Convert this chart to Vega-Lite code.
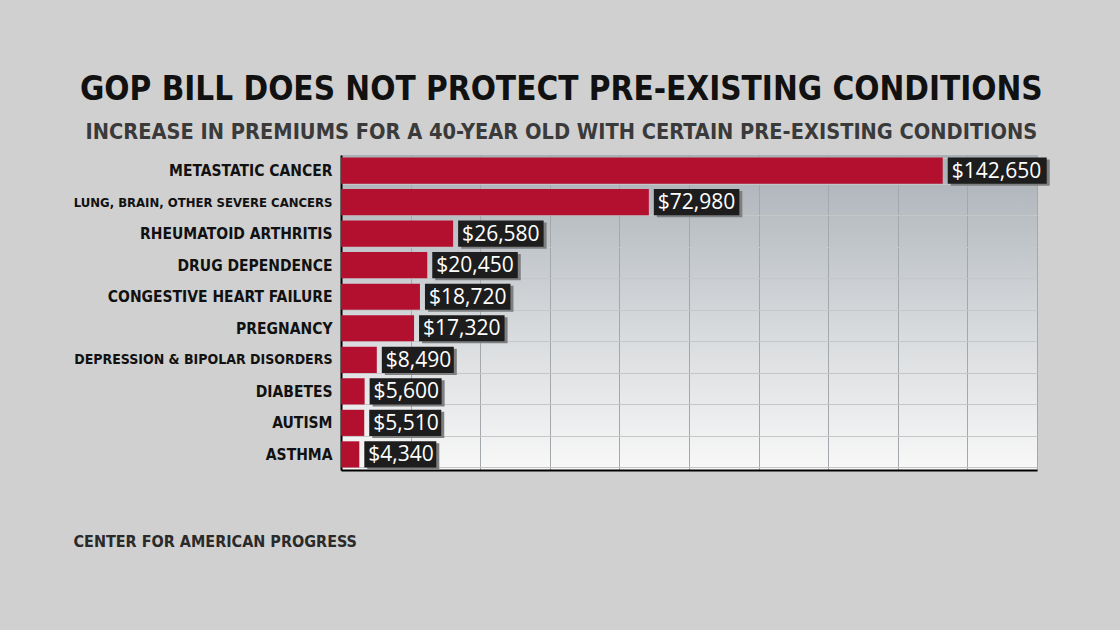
{
  "$schema": "https://vega.github.io/schema/vega-lite/v6.json",
  "width": 696,
  "height": 315,
  "autosize": "none",
  "padding": {"left": 341, "top": 155, "right": 83, "bottom": 160},
  "background": "#d0d0d0",
  "title": {
    "text": "GOP BILL DOES NOT PROTECT PRE-EXISTING CONDITIONS",
    "subtitle": "INCREASE IN PREMIUMS FOR A 40-YEAR OLD WITH CERTAIN PRE-EXISTING CONDITIONS",
    "anchor": "middle",
    "frame": "bounds",
    "font": "DejaVu Sans Condensed, sans-serif",
    "fontSize": 33,
    "fontWeight": "bold",
    "color": "#111111",
    "subtitleFont": "DejaVu Sans Condensed, sans-serif",
    "subtitleFontSize": 21.6,
    "subtitleFontWeight": "bold",
    "subtitleColor": "#3a3a3a",
    "subtitlePadding": 15,
    "offset": 4
  },
  "data": {
    "values": [
      {"condition": "METASTATIC CANCER", "value": 142650},
      {"condition": "LUNG, BRAIN, OTHER SEVERE CANCERS", "value": 72980},
      {"condition": "RHEUMATOID ARTHRITIS", "value": 26580},
      {"condition": "DRUG DEPENDENCE", "value": 20450},
      {"condition": "CONGESTIVE HEART FAILURE", "value": 18720},
      {"condition": "PREGNANCY", "value": 17320},
      {"condition": "DEPRESSION & BIPOLAR DISORDERS", "value": 8490},
      {"condition": "DIABETES", "value": 5600},
      {"condition": "AUTISM", "value": 5510},
      {"condition": "ASTHMA", "value": 4340}
    ]
  },
  "encoding": {
    "y": {
      "field": "condition",
      "type": "nominal",
      "sort": null,
      "scale": {"paddingInner": 0.17, "paddingOuter": 0.08},
      "axis": {
        "title": null,
        "ticks": false,
        "domain": true,
        "domainColor": "#000000",
        "domainWidth": 2,
        "grid": true,
        "tickBand": "extent",
        "gridColor": "#c4c6c8",
        "labelPadding": 9,
        "labelFont": "DejaVu Sans Condensed, sans-serif",
        "labelFontSize": {"expr": "length(datum.label) > 28 ? (length(datum.label) > 31 ? 13 : 14) : 15.5"},
        "labelFontWeight": "bold",
        "labelColor": "#111111",
        "labelLimit": 340
      }
    },
    "x": {
      "field": "value",
      "type": "quantitative",
      "scale": {"domain": [0, 165000], "nice": false},
      "axis": {
        "labels": false,
        "ticks": false,
        "domainColor": "#000000",
        "domainWidth": 2,
        "grid": true,
        "gridColor": "#a3a8ac",
        "values": [16500, 33000, 49500, 66000, 82500, 99000, 115500, 132000, 148500, 165000],
        "title": "CENTER FOR AMERICAN PROGRESS",
        "titleAnchor": "start",
        "titleAlign": "left",
        "titleX": -268,
        "titleY": 76,
        "titleBaseline": "alphabetic",
        "titleFont": "DejaVu Sans Condensed, sans-serif",
        "titleFontSize": 16,
        "titleFontWeight": "bold",
        "titleColor": "#2a2a2a"
      }
    }
  },
  "layer": [
    {"mark": {"type": "bar", "color": "#b3102f"}},
    {
      "mark": {
        "type": "bar",
        "color": "#7d7f81",
        "xOffset": 8,
        "yOffset": 2,
        "x2Offset": {"expr": "13.5*length(format(datum.value, '$,')) - 1"}
      },
      "encoding": {"x2": {"field": "value"}}
    },
    {
      "mark": {
        "type": "bar",
        "color": "#1d1d1d",
        "xOffset": 5,
        "x2Offset": {"expr": "13.5*length(format(datum.value, '$,')) - 4"}
      },
      "encoding": {"x2": {"field": "value"}}
    },
    {
      "mark": {
        "type": "text",
        "align": "left",
        "baseline": "middle",
        "dx": 9,
        "dy": 1,
        "font": "Open Sans",
        "fontSize": 21,
        "color": "#ffffff"
      },
      "encoding": {"text": {"field": "value", "type": "quantitative", "format": "$,"}}
    }
  ],
  "config": {
    "view": {
      "stroke": null,
      "fill": {
        "gradient": "linear",
        "x1": 0, "y1": 0, "x2": 0, "y2": 1,
        "stops": [
          {"offset": 0, "color": "#a9b0b6"},
          {"offset": 0.5, "color": "#d3d6d9"},
          {"offset": 1, "color": "#f8f8f8"}
        ]
      }
    }
  }
}
